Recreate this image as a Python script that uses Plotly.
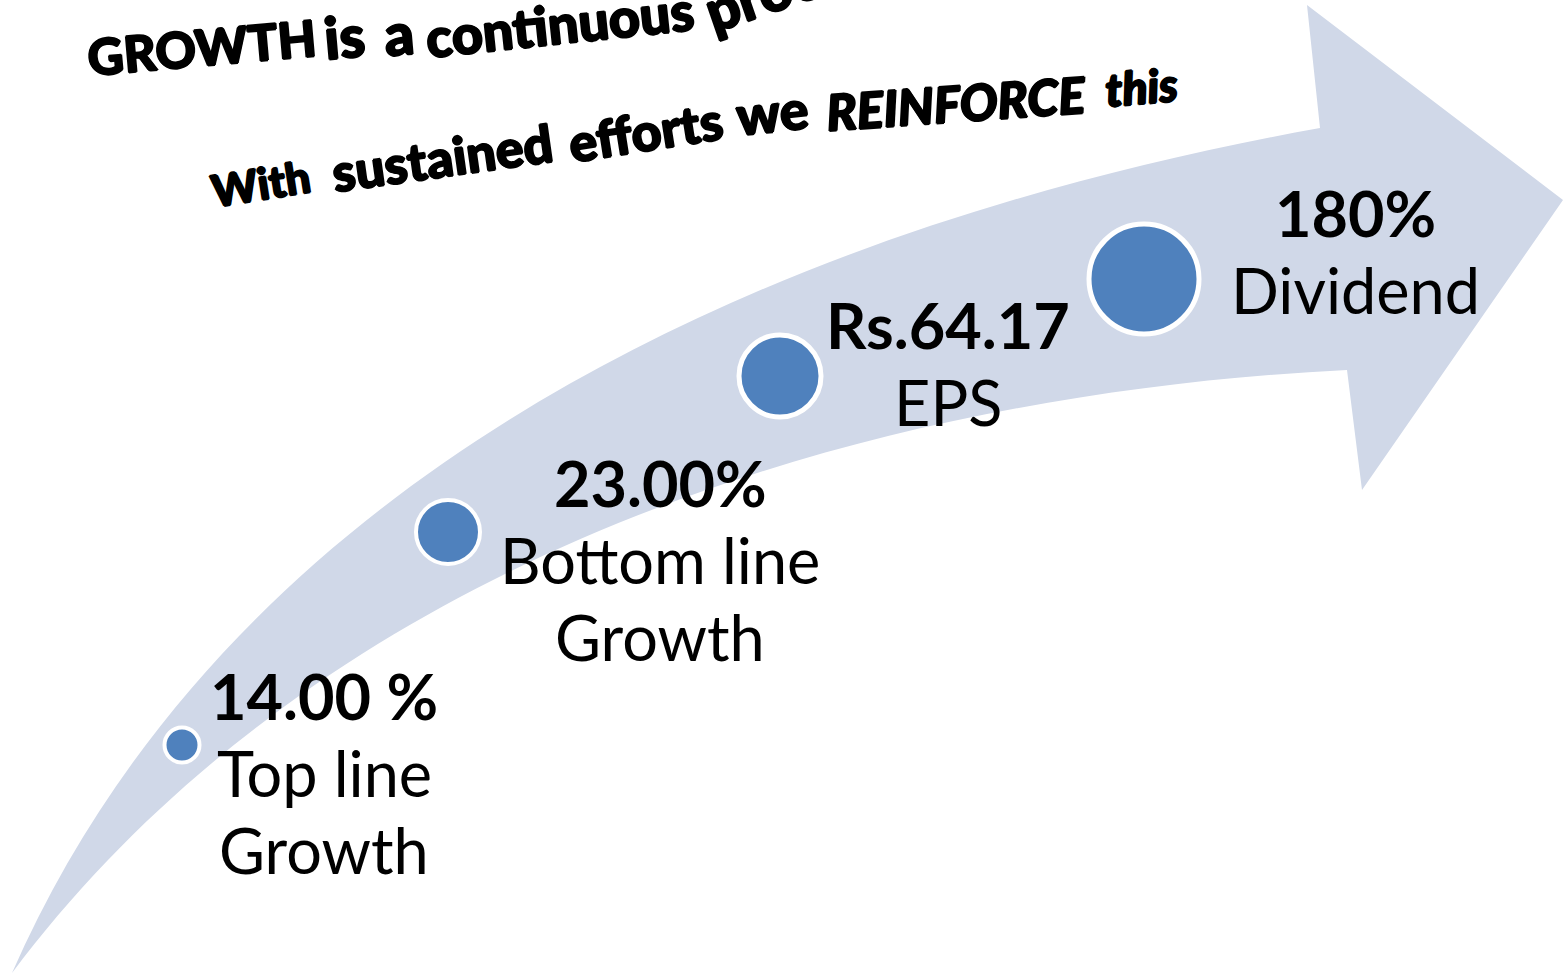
import numpy as np
import plotly.graph_objects as go

# ---- figures shown on the growth arrow --------------------------------
metrics = ["Top line Growth", "Bottom line Growth", "EPS", "Dividend"]
values = ["14.00 %", "23.00%", "Rs.64.17", "180%"]
captions = [["Top line", "Growth"], ["Bottom line", "Growth"], ["EPS"], ["Dividend"]]

headline = ["GROWTH", "is", "a", "continuous", "process"]
tagline = ["With", "sustained", "efforts", "we", "REINFORCE", "this"]

# ---- canvas & styling --------------------------------------------------
W, H = 1563, 974
ARROW_FILL = "#D0D8E8"
DOT_FILL = "#4F81BD"
LABEL_FONT = "Lato, 'Noto Sans', sans-serif"
ART_FONT = "Lato, 'DejaVu Sans', sans-serif"
ART_SHADOW = "1px 0 0 #000, -1px 0 0 #000, 0 1px 0 #000, 0 -1px 0 #000"

dot_x = [182, 448, 780, 1144]
dot_y = [745, 532, 376, 279]
dot_size = [35, 64, 82, 110]
dot_ring = [4, 4, 5, 5]

label_x = [324, 660, 948, 1355]
label_base = [720, 507, 349, 237]      # baseline of the bold first line
LABEL_SIZE = 63
LINE_STEP = 77

# curved arrow outline (canvas pixels): guide points for each edge
upper_edge = [(12, 973), (83, 853), (160, 740), (267, 600), (300, 567),
              (450, 450), (550, 397), (650, 347), (750, 300), (850, 256),
              (950, 218), (1017, 197), (1183, 153), (1320, 128)]
arrow_head = [(1307, 5), (1563, 200), (1362, 490), (1347, 370)]
lower_edge = [(1347, 370), (1150, 390), (950, 422), (800, 455), (650, 513),
              (480, 590), (400, 630), (300, 695), (207, 765), (150, 817),
              (12, 973)]

# word placement: centre x, baseline y, angle, size, italic
headline_pos = [(202, 66, -5, 50, False), (344, 58, -5, 58, False),
                (399, 55, -5, 58, False), (559, 44, -6, 54, False),
                (800, 2, -19, 58, False)]
tagline_pos = [(260, 200, -9, 44, False), (442, 177, -8, 52, False),
               (645, 151, -9, 52, False), (772, 132, -6, 54, False),
               (956, 122, -4, 50, True), (1141, 104, -5, 46, True)]


def bezier_through(pts):
    """Least-squares cubic Bezier with fixed ends, as an SVG 'C' command."""
    p = np.asarray(pts, dtype=float)
    seg = np.hypot(*np.diff(p, axis=0).T)
    t = np.concatenate([[0], np.cumsum(seg)]) / seg.sum()
    b0, b1 = (1 - t) ** 3, 3 * t * (1 - t) ** 2
    b2, b3 = 3 * t ** 2 * (1 - t), t ** 3
    rhs = p - np.outer(b0, p[0]) - np.outer(b3, p[-1])
    ctrl, *_ = np.linalg.lstsq(np.column_stack([b1, b2]), rhs, rcond=None)
    c1, c2 = ctrl
    return (f"C {c1[0]:.1f},{c1[1]:.1f} {c2[0]:.1f},{c2[1]:.1f} "
            f"{p[-1][0]:.0f},{p[-1][1]:.0f}")


arrow = f"M {upper_edge[0][0]},{upper_edge[0][1]} " + bezier_through(upper_edge)
arrow += " " + " ".join(f"L {x},{y}" for x, y in arrow_head)
arrow += " " + bezier_through(lower_edge) + " Z"

fig = go.Figure()

fig.add_trace(go.Scatter(
    x=dot_x, y=dot_y, mode="markers",
    marker=dict(size=dot_size, color=DOT_FILL, opacity=1,
                line=dict(color="white", width=dot_ring)),
    text=[f"{m}: {v}" for m, v in zip(metrics, values)],
    hoverinfo="text", cliponaxis=False, showlegend=False,
))

annotations = []


def word(text, cx, base, angle, size, italic=False, weight="bold",
         font=ART_FONT, shadow="none"):
    # paper coordinates so words running past the top edge are still drawn
    cy = base - 0.387 * size
    annotations.append(dict(
        x=cx / W, y=1 - cy / H, xref="paper", yref="paper",
        text=text, showarrow=False, textangle=angle,
        xanchor="center", yanchor="middle",
        font=dict(family=font, size=size, color="black", weight=weight,
                  style="italic" if italic else "normal", shadow=shadow),
    ))


for w, (cx, b, a, s, it) in zip(headline, headline_pos):
    word(w, cx, b, a, s, it, weight=900, shadow=ART_SHADOW)
for w, (cx, b, a, s, it) in zip(tagline, tagline_pos):
    word(w, cx, b, a, s, it, weight=900, shadow=ART_SHADOW)

for v, cap, cx, b in zip(values, captions, label_x, label_base):
    word(v, cx, b, 0, LABEL_SIZE, weight="bold", font=LABEL_FONT)
    for k, line in enumerate(cap, start=1):
        word(line, cx, b + k * LINE_STEP, 0, LABEL_SIZE, weight="normal", font=LABEL_FONT)

fig.update_layout(
    width=W, height=H,
    margin=dict(l=0, r=0, t=0, b=0),
    paper_bgcolor="white", plot_bgcolor="white",
    xaxis=dict(range=[0, W], visible=False, fixedrange=True),
    yaxis=dict(range=[H, 0], visible=False, fixedrange=True),
    shapes=[dict(type="path", path=arrow, fillcolor=ARROW_FILL,
                 line=dict(width=0), layer="below", xref="x", yref="y")],
    annotations=annotations,
)

fig.write_html("out.html")
